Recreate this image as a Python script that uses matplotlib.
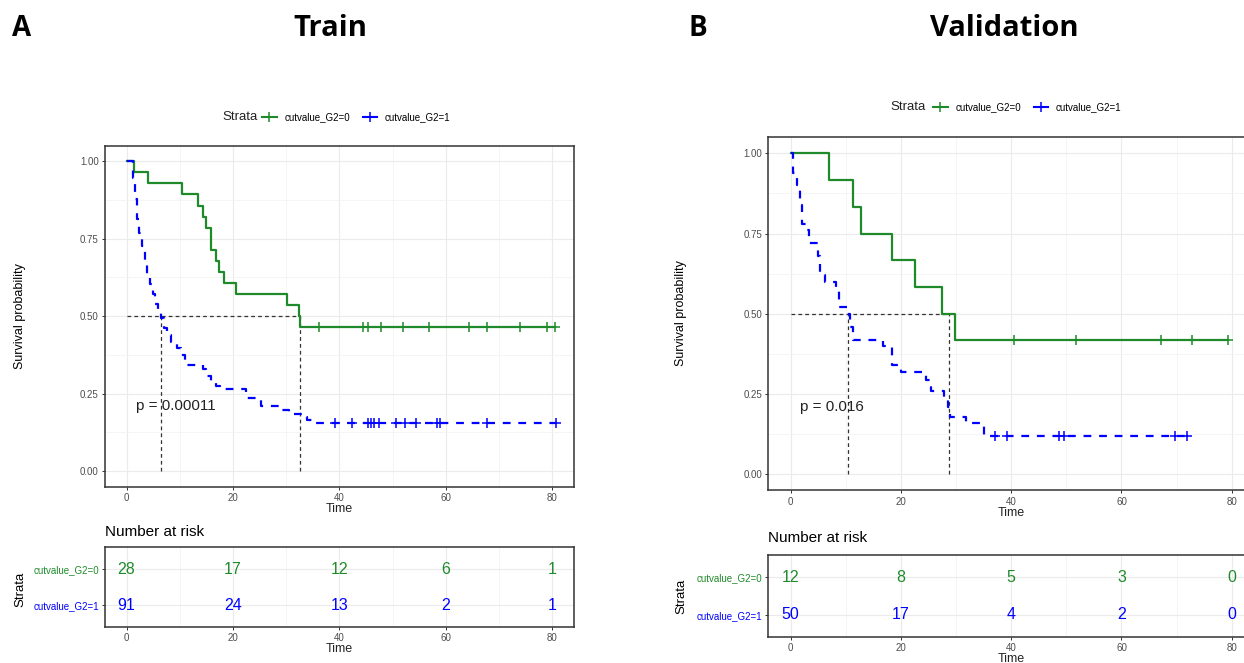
#Kaplan-Meier curves with number-at-risk tables for the Train and Validation sets

import numpy as np
import matplotlib
matplotlib.use("Agg")
import matplotlib.pyplot as plt
from matplotlib.lines import Line2D

plt.rcParams['font.family'] = ['Liberation Sans', 'DejaVu Sans']

GREEN = '#1F8A2A'
BLUE = '#0000FF'

strata_labels = ['cutvalue_G2=0', 'cutvalue_G2=1']
risk_times = [0, 20, 40, 60, 80]

# Train set
train_g0_time = [0, 1.4, 4.1, 10.5, 13.5, 14.4, 14.9, 15.9, 16.9, 17.4, 18.3, 20.5, 30.1, 32.4, 32.6]
train_g0_surv = [1.0, 0.964, 0.929, 0.893, 0.857, 0.821, 0.786, 0.714, 0.679, 0.643, 0.607, 0.571, 0.536, 0.5, 0.464]
train_g0_end = 80.6
train_g0_cens = [36.2, 44.4, 45.3, 47.9, 52.0, 56.8, 64.3, 67.7, 73.9, 79.0, 80.6]

train_g1_time = [0, 1.2, 1.5, 1.9, 2.4, 2.9, 3.4, 3.9, 4.4, 4.9, 5.4, 5.9, 6.4, 7.0, 7.6, 8.4, 9.4,
                 10.2, 11.0, 14.3, 15.0, 15.8, 16.8, 17.5, 22.5, 25.3, 29.3, 30.5, 33.0, 34.0, 35.2]
train_g1_surv = [1.0, 0.945, 0.879, 0.813, 0.769, 0.725, 0.681, 0.637, 0.604, 0.571, 0.538, 0.516, 0.494,
                 0.461, 0.439, 0.418, 0.396, 0.374, 0.341, 0.330, 0.308, 0.286, 0.275, 0.264, 0.236,
                 0.209, 0.198, 0.185, 0.176, 0.165, 0.154]
train_g1_end = 80.8
train_g1_cens = [39.2, 42.3, 45.4, 46.0, 46.5, 47.5, 50.6, 52.3, 54.4, 58.3, 59.0, 67.7, 80.8]

train_risk_g0 = [28, 17, 12, 6, 1]
train_risk_g1 = [91, 24, 13, 2, 1]
train_medians = [32.55, 6.45]
train_pval = "p = 0.00011"

# Validation set
val_g0_time = [0, 6.9, 11.3, 12.8, 18.4, 22.5, 27.5, 29.9]
val_g0_surv = [1.0, 0.917, 0.833, 0.75, 0.667, 0.583, 0.5, 0.417]
val_g0_end = 79.4
val_g0_cens = [40.5, 51.7, 67.1, 72.8, 79.4]

val_g1_time = [0, 0.5, 1.1, 1.7, 2.0, 3.0, 3.3, 5.0, 5.3, 6.2, 8.3, 8.7, 10.2, 10.8, 11.4, 16.8, 18.4,
               20.1, 24.6, 25.5, 27.8, 28.6, 28.9, 31.8, 35.0]
val_g1_surv = [1.0, 0.94, 0.90, 0.84, 0.78, 0.76, 0.72, 0.68, 0.62, 0.60, 0.58, 0.52, 0.50, 0.46, 0.42,
               0.40, 0.34, 0.32, 0.295, 0.26, 0.237, 0.21, 0.18, 0.159, 0.118]
val_g1_end = 71.8
val_g1_cens = [37.1, 39.2, 48.6, 49.5, 69.7, 71.8]

val_risk_g0 = [12, 8, 5, 3, 0]
val_risk_g1 = [50, 17, 4, 2, 0]
val_medians = [28.7, 10.4]
val_pval = "p = 0.016"

W, H = 1244, 663


def style_ax(ax):
    ax.set_facecolor('white')
    for s in ax.spines.values():
        s.set_color('#333333')
        s.set_linewidth(1.1)
    ax.set_xlim(-4.05, 84)
    ax.set_xticks([0, 20, 40, 60, 80])
    ax.set_xticks([10, 30, 50, 70], minor=True)
    ax.grid(True, which='major', color='#EBEBEB', lw=0.8)
    ax.grid(True, which='minor', color='#F2F2F2', lw=0.5)
    ax.set_axisbelow(True)
    ax.tick_params(which='major', length=2.5, width=0.7, color='#333333',
                   labelsize=7, labelcolor='#4D4D4D', pad=2)
    ax.tick_params(which='minor', length=0)


def km_line(ax, time, surv, end, cens, color, ls):
    t = list(time) + [end]
    s = list(surv) + [surv[-1]]
    ax.step(t, s, where='post', color=color, lw=1.6, linestyle=ls, zorder=3)
    idx = np.searchsorted(time, cens, side='right') - 1
    ax.plot(cens, np.array(surv)[idx], linestyle='none', marker='+', ms=6.5, mew=1.1,
            color=color, zorder=4)


def km_panel(rect, g0, g1, medians, pval):
    ax = fig.add_axes(rect)
    style_ax(ax)
    ax.set_ylim(-0.05, 1.05)
    ax.set_yticks([0, 0.25, 0.5, 0.75, 1.0])
    ax.set_yticklabels(["0.00", "0.25", "0.50", "0.75", "1.00"])
    ax.set_yticks([0.125, 0.375, 0.625, 0.875], minor=True)
    # median survival lines
    ax.plot([0, max(medians)], [0.5, 0.5], color='#333333', lw=0.9, linestyle=(0, (3, 2.5)), zorder=2)
    for m in medians:
        ax.plot([m, m], [0, 0.5], color='#333333', lw=0.9, linestyle=(0, (3, 2.5)), zorder=2)
    km_line(ax, *g0, GREEN, '-')
    km_line(ax, *g1, BLUE, (0, (3.5, 3.5)))
    ax.text(1.7, 0.21, pval, fontsize=11, ha='left', va='center', color='#222222')
    ax.set_xlabel("Time", fontsize=9, labelpad=0, color='#222222')
    return ax


def risk_panel(rect, r0, r1):
    ax = fig.add_axes(rect)
    style_ax(ax)
    ax.set_ylim(0.4, 2.6)
    ax.set_yticks([1, 2])
    ax.set_yticklabels([strata_labels[1], strata_labels[0]])
    for lab, c in zip(ax.get_yticklabels(), [BLUE, GREEN]):
        lab.set_color(c)
    ax.tick_params(axis='y', labelsize=7)
    for t, a, b in zip(risk_times, r0, r1):
        ax.text(t, 2, str(a), color=GREEN, fontsize=11.5, ha='center', va='center')
        ax.text(t, 1, str(b), color=BLUE, fontsize=11.5, ha='center', va='center')
    ax.set_xlabel("Time", fontsize=9, labelpad=0, color='#222222')
    return ax


def legend(x_strata, x_leg, y):
    handles = [Line2D([], [], color=GREEN, lw=1.5, marker='+', ms=6.5, mew=1.1),
               Line2D([], [], color=BLUE, lw=1.5, marker='+', ms=6.5, mew=1.1)]
    fig.text(x_strata / W, 1 - y / H, "Strata", fontsize=9.5, va='center', ha='left', color='#222222')
    fig.legend(handles, strata_labels, loc='center left', bbox_to_anchor=(x_leg / W, 1 - y / H),
               ncol=2, frameon=False, fontsize=7, handlelength=1.5, handletextpad=0.8,
               columnspacing=1.3, borderpad=0, borderaxespad=0)


fig = plt.figure(figsize=(W / 100, H / 100), dpi=100)

# Train
km_panel([105 / W, 1 - 486.7 / H, 468.5 / W, 341 / H],
         (train_g0_time, train_g0_surv, train_g0_end, train_g0_cens),
         (train_g1_time, train_g1_surv, train_g1_end, train_g1_cens),
         train_medians, train_pval)
risk_panel([105 / W, 1 - 626.6 / H, 468.5 / W, 79.2 / H], train_risk_g0, train_risk_g1)
legend(222, 262, 117)

# Validation
km_panel([768.2 / W, 1 - 490.4 / H, 485.6 / W, 353.1 / H],
         (val_g0_time, val_g0_surv, val_g0_end, val_g0_cens),
         (val_g1_time, val_g1_surv, val_g1_end, val_g1_cens),
         val_medians, val_pval)
risk_panel([768.2 / W, 1 - 637 / H, 485.6 / W, 82 / H], val_risk_g0, val_risk_g1)
legend(890, 933, 107)

# labels outside the axes
fig.text(20 / W, 1 - 316 / H, "Survival probability", rotation=90, fontsize=9, ha='center', va='center')
fig.text(681 / W, 1 - 313 / H, "Survival probability", rotation=90, fontsize=9, ha='center', va='center')
fig.text(20 / W, 1 - 589 / H, "Strata", rotation=90, fontsize=9.5, ha='center', va='center')
fig.text(681 / W, 1 - 596 / H, "Strata", rotation=90, fontsize=9.5, ha='center', va='center')
fig.text(105 / W, 1 - 532 / H, "Number at risk", fontsize=11, ha='left', va='center')
fig.text(768 / W, 1 - 538 / H, "Number at risk", fontsize=11, ha='left', va='center')

fig.text(22 / W, 1 - 29 / H, "A", fontsize=20, fontweight='bold', family='Open Sans', ha='center', va='center')
fig.text(698 / W, 1 - 29 / H, "B", fontsize=20, fontweight='bold', family='Open Sans', ha='center', va='center')
fig.text(330 / W, 1 - 29 / H, "Train", fontsize=21, fontweight='bold', family='Open Sans', ha='center', va='center')
fig.text(1004 / W, 1 - 29 / H, "Validation", fontsize=21, fontweight='bold', family='Open Sans', ha='center', va='center')

fig.savefig("out.png", dpi=100)
